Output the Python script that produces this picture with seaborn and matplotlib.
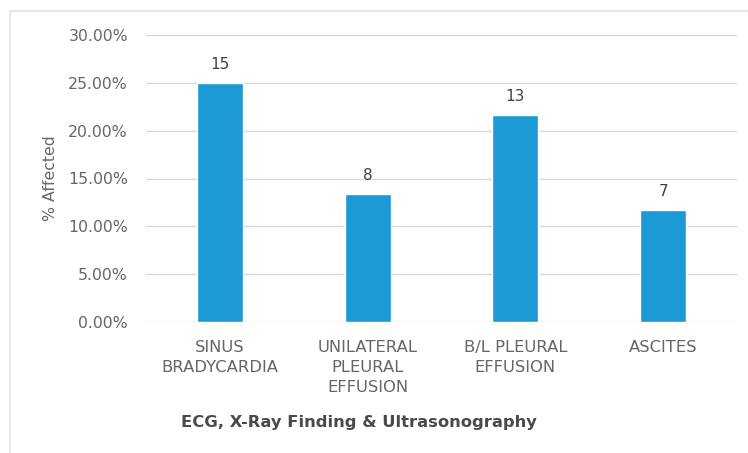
import matplotlib
matplotlib.use("Agg")
import matplotlib.pyplot as plt
import seaborn as sns
import pandas as pd
from matplotlib.patches import Rectangle
from matplotlib.ticker import PercentFormatter

# Findings and counts (n = 60 patients)
categories = ["SINUS\nBRADYCARDIA", "UNILATERAL\nPLEURAL\nEFFUSION",
              "B/L PLEURAL\nEFFUSION", "ASCITES"]
counts = [15, 8, 13, 7]
percent_affected = [25.00, 13.33, 21.67, 11.67]
y_ticks = [0, 5, 10, 15, 20, 25, 30]

df = pd.DataFrame({"finding": categories, "pct": percent_affected})

sns.set_theme(style="white")
plt.rcParams["font.family"] = ["DejaVu Sans"]

fig = plt.figure(figsize=(7.48, 4.53), dpi=100)
fig.patch.set_facecolor("white")

# light frame around the chart area
fig.add_artist(Rectangle((10 / 748, -0.05), 1.2, (453 - 11) / 453 + 0.05,
                         transform=fig.transFigure, fill=False,
                         edgecolor="#e3e3e3", linewidth=1.2))

ax = fig.add_axes([146 / 748, 1 - 322 / 453, 591 / 748, (322 - 35) / 453])

sns.barplot(data=df, x="finding", y="pct", color="#1c9ad6", saturation=1,
            width=0.31, ax=ax, zorder=3)

ax.set_ylim(0, 30)
ax.set_yticks(y_ticks)
ax.yaxis.set_major_formatter(PercentFormatter(decimals=2))
ax.grid(axis="y", color="#d9d9d9", linewidth=1, zorder=0)
for s in ax.spines.values():
    s.set_visible(False)
ax.tick_params(axis="both", length=0, colors="#666666", labelsize=11.3)
ax.tick_params(axis="x", labelsize=11.8)
ax.tick_params(axis="y", pad=13)
ax.tick_params(axis="x", pad=13)
for lbl in ax.get_xticklabels():
    lbl.set_linespacing(1.4)

ax.bar_label(ax.containers[0], labels=[str(c) for c in counts],
             padding=8, fontsize=11, color="#404040")

ax.set_xlabel("")
ax.set_ylabel("% Affected", fontsize=11.3, color="#666666", labelpad=7)
fig.text(359 / 748, 1 - 422 / 453, "ECG, X-Ray Finding & Ultrasonography",
         ha="center", va="center", fontsize=11.8, fontweight="bold",
         color="#4a4a4a")

fig.savefig("out.png", dpi=100)
